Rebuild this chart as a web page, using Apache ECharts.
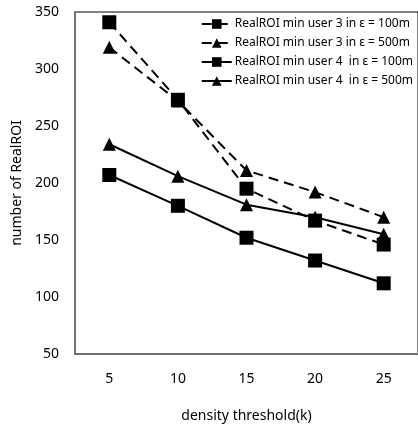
<!DOCTYPE html>
<html><head><meta charset="utf-8">
<script src="https://cdn.jsdelivr.net/npm/echarts@6/dist/echarts.min.js"></script>
<style>html,body{margin:0;padding:0;background:#fff}#c{width:418px;height:428px}</style>
</head><body><div id="c"></div>
<script>
const categories = ['5','10','15','20','25'];
const names = ['RealROI min user 3 in ε = 100m','RealROI min user 3 in ε = 500m','RealROI min user 4  in ε = 100m','RealROI min user 4  in ε = 500m'];
const user3_100 = [341, 273, 195, 167, 146];
const user3_500 = [319, 272, 211, 192, 170];
const user4_100 = [207, 180, 152, 132, 112];
const user4_500 = [234, 206, 181, 170, 155];
const yTicks = {min: 50, max: 350, interval: 50};

const font = 'Noto Sans';
function mk(name, data, dashed, symbol, size){
  return {name, type:'line', data, symbol, symbolSize:size,
    itemStyle:{color:'#000'},
    lineStyle:{color:'#000', width:2, type: dashed ? [10,6] : 'solid'}};
}
const chart = echarts.init(document.getElementById('c'));
chart.setOption({
  animation:false,
  grid:{left:75, right:-2, top:12, bottom:73, show:true, borderColor:'#000', borderWidth:1},
  legend:{right:0, top:13, orient:'vertical', itemGap:7, itemWidth:30, itemHeight:12,
    textStyle:{fontFamily:font, fontSize:12, color:'#000', padding:[0,0,0,-2]}, data:names},
  xAxis:{type:'category', data:categories, boundaryGap:true,
    axisLine:{lineStyle:{color:'#707070', width:2}}, axisTick:{show:false},
    axisLabel:{fontFamily:font, fontSize:14, color:'#000', margin:18},
    name:'density threshold(k)', nameLocation:'middle', nameGap:55,
    nameTextStyle:{fontFamily:font, fontSize:14, color:'#000'}},
  yAxis:{type:'value', min:yTicks.min, max:yTicks.max, interval:yTicks.interval,
    axisLine:{show:true, lineStyle:{color:'#707070', width:2}}, axisTick:{show:false}, splitLine:{show:false},
    axisLabel:{fontFamily:font, fontSize:14, color:'#000', margin:16},
    name:'number of RealROI', nameLocation:'middle', nameGap:51,
    nameTextStyle:{fontFamily:font, fontSize:14, color:'#000'}},
  series:[
    mk(names[0], user3_100, true, 'rect', 14),
    mk(names[1], user3_500, true, 'triangle', 13),
    mk(names[2], user4_100, false, 'rect', 14),
    mk(names[3], user4_500, false, 'triangle', 13)
  ]
});
</script></body></html>
